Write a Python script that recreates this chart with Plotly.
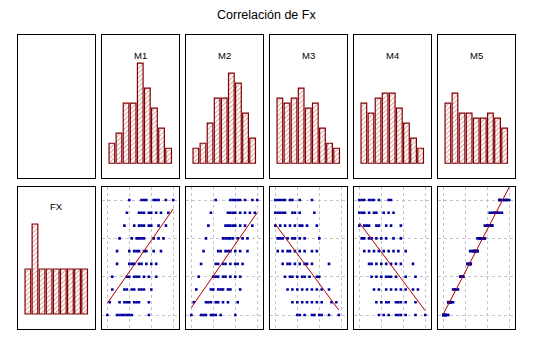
import numpy as np
import plotly.graph_objects as go

TITLE = "Correlación de Fx"
VARS = ["M1", "M2", "M3", "M4", "M5"]
FX_LEVELS = [1, 2, 3, 4, 5, 6, 7, 8, 9, 10]

# histogram counts (9 bins)
FX_HIST = [9, 18, 9, 9, 9, 9, 9, 9, 9]
M1_HIST = [4, 6, 12, 12, 20, 15, 11, 7, 3]
M2_HIST = [3, 4, 8, 13, 13, 18, 16, 10, 5]
M3_HIST = [13, 12, 13, 15, 11, 12, 7, 4, 3]
M4_HIST = [12, 10, 13, 14, 14, 11, 8, 5, 3]
M5_HIST = [12, 14, 10, 10, 9, 9, 10, 9, 7]

# scatter points: for each FX level (1..10) the M values
M1_ROWS = [
    [1, 2.33, 2.67, 3, 3.33, 3.67, 4, 4.33, 6.67],
    [1.33, 2.67, 3.33, 3.67, 4, 4.67, 5, 5.33, 6.67],
    [1.67, 3.33, 3.67, 4.33, 4.67, 5.33, 5.67, 6, 7],
    [1.67, 3.67, 4, 4.67, 5, 5.33, 6, 6.67, 7.67],
    [2.33, 4, 4.33, 4.67, 5.33, 5.67, 6.33, 7, 7.67],
    [2.33, 4, 4.67, 5, 5.33, 6, 6.33, 7.33, 8.33],
    [2.67, 4.33, 5, 5.33, 5.67, 6, 7.33, 8, 8.67],
    [3.33, 4.67, 5.33, 5.67, 6, 6.67, 7, 8, 9],
    [3.67, 5.33, 5.67, 6, 6.67, 7, 7.67, 8.33, 9.33],
    [4, 5.67, 6, 6.33, 7.33, 7.67, 8, 9, 10],
]
M2_ROWS = [
    [1, 2.33, 2.67, 3, 3.67, 4, 4.33, 5, 7],
    [1.33, 3, 3.33, 3.67, 4.33, 4.67, 5.33, 6, 7.33],
    [1.67, 3.67, 4, 4.67, 5, 5.33, 6, 6.33, 7.67],
    [2, 4, 4.33, 4.67, 5.33, 5.67, 6.33, 7, 7.67],
    [2.33, 4.33, 4.67, 5.33, 5.67, 6.33, 7, 7.33, 8],
    [2.67, 4.67, 5, 5.67, 6, 6.33, 7, 7.67, 8.67],
    [3, 5.33, 5.67, 6, 6.33, 6.67, 7.33, 8, 8.67],
    [3.33, 5.67, 6, 6.33, 6.67, 7, 7.67, 8.33, 9.33],
    [3.67, 6, 6.33, 6.67, 7, 7.67, 8.33, 9, 9.67],
    [4.33, 6.33, 6.67, 7, 7.33, 7.67, 8.33, 9.33, 10],
]
M3_ROWS = [
    [4, 4.33, 5, 6, 6.33, 7, 7.33, 8.33, 9.67],
    [3.33, 4, 4.67, 5.33, 6, 6.67, 7.33, 8.67, 9.33],
    [2.67, 3.33, 4, 4.67, 5.33, 6, 6.67, 7.33, 8.33],
    [2.33, 3, 3.33, 4, 4.67, 5, 5.67, 6.67, 7],
    [2, 2.67, 3, 3.67, 4.33, 5, 5.33, 6, 8.33],
    [1.33, 2, 2.67, 3, 3.67, 4.33, 5, 6, 6.67],
    [1.33, 1.67, 2, 2.67, 3.33, 3.67, 4.33, 5, 7],
    [1, 1.67, 2.33, 3, 3.67, 4.33, 4.67, 5.33, 6.67],
    [1, 1.33, 1.67, 2, 2.33, 3.33, 3.67, 4.33, 6.33],
    [1, 1.33, 1.67, 2, 2.33, 3, 3.33, 4.33, 6],
]
M4_ROWS = [
    [3.67, 4.33, 5, 6, 6.33, 6.67, 7.33, 8.67, 10],
    [3.33, 4, 4.67, 5, 6, 6.33, 6.67, 7.33, 8.67],
    [3, 3.67, 4.67, 5.33, 6, 6.67, 7.33, 8.33, 9],
    [2.67, 3.33, 4, 4.67, 5, 5.33, 6, 7.33, 8.67],
    [2.33, 2.67, 3.33, 4, 4.67, 5.33, 6, 6.67, 8.33],
    [1.67, 2.33, 3, 3.67, 4.33, 5, 5.67, 6.33, 7.33],
    [1.33, 1.67, 2.33, 2.67, 3.33, 4, 4.67, 5.67, 6.67],
    [1, 1.67, 2, 2.33, 3.33, 3.67, 4.67, 5.33, 6.67],
    [1, 1.33, 1.67, 2.33, 3, 3.33, 4.33, 5, 5.67],
    [1, 1.33, 1.67, 2.33, 2.67, 3, 3.67, 5, 5.33],
]
M5_ROWS = [
    [1, 1, 1, 1, 1.33, 1.33, 1.33, 1.33, 1.67],
    [1.67, 1.67, 1.67, 2, 2, 2, 2, 2, 2.33],
    [2.33, 2.67, 2.67, 2.67, 2.67, 2.67, 2.67, 2.67, 3],
    [3.33, 3.33, 3.67, 3.67, 3.67, 3.67, 3.67, 3.67, 3.67],
    [4.33, 4.33, 4.33, 4.67, 4.67, 4.67, 4.67, 4.67, 4.67],
    [4.67, 5, 5, 5.33, 5.33, 5.33, 5.33, 5.67, 5.67],
    [5.67, 6, 6, 6, 6.33, 6.33, 6.33, 6.67, 6.67],
    [6.67, 7, 7, 7, 7.33, 7.33, 7.33, 7.67, 7.67],
    [7.33, 7.67, 8, 8, 8.33, 8.33, 8.33, 8.67, 9],
    [8.67, 8.67, 8.67, 9, 9.33, 9.33, 9.67, 9.67, 10],
]

HISTS = [M1_HIST, M2_HIST, M3_HIST, M4_HIST, M5_HIST]
ROWS = [M1_ROWS, M2_ROWS, M3_ROWS, M4_ROWS, M5_ROWS]

W, H = 533, 346
BAR_LINE = "#800000"
DOT = "#0000A0"
FIT = "#B00000"
GRID = "#C4C4C4"

col_left = [18 + 84 * i for i in range(6)]
col_w = 76.5
row_top = [35, 187]
row_bot = [178.3, 329]

fig = go.Figure()
layout = {}


def dom_x(c):
    return [col_left[c] / W, (col_left[c] + col_w) / W]


def dom_y(r):
    return [1 - row_bot[r] / H, 1 - row_top[r] / H]


def axis_common():
    return dict(showline=True, mirror=True, linecolor="black", linewidth=1.4,
                zeroline=False, showticklabels=False, ticks="", fixedrange=True)


bins = list(range(9))


def add_hist(k, counts, r, c):
    fig.add_trace(go.Bar(
        x=bins, y=counts, xaxis=f"x{k}", yaxis=f"y{k}", width=0.8,
        marker=dict(color="white", line=dict(color=BAR_LINE, width=1.2),
                    pattern=dict(shape="/", fgcolor=BAR_LINE, bgcolor="#fff8f8",
                                 size=3.3, solidity=0.26)),
        showlegend=False, hoverinfo="skip"))
    layout[f"xaxis{k}"] = dict(axis_common(), domain=dom_x(c), range=[-1.39, 9.39],
                               showgrid=False, anchor=f"y{k}")
    layout[f"yaxis{k}"] = dict(axis_common(), domain=dom_y(r),
                               range=[-3, 25.6 if r == 0 else 25.4],
                               showgrid=False, anchor=f"x{k}")


# empty top-left panel
layout["xaxis1"] = dict(axis_common(), domain=dom_x(0), range=[0, 1], showgrid=False, anchor="y1")
layout["yaxis1"] = dict(axis_common(), domain=dom_y(0), range=[0, 1], showgrid=False, anchor="x1")
fig.add_trace(go.Scatter(x=[], y=[], xaxis="x1", yaxis="y1", showlegend=False))

for i, name in enumerate(VARS):
    add_hist(i + 2, HISTS[i], 0, i + 1)

add_hist(7, FX_HIST, 1, 0)

for i, rows in enumerate(ROWS):
    k = i + 8
    xs, ys = [], []
    for lvl, vals in zip(FX_LEVELS, rows):
        for v in vals:
            xs.append(v)
            ys.append(lvl)
    xs = np.array(xs, float)
    ys = np.array(ys, float)
    fig.add_trace(go.Scatter(x=xs, y=ys, mode="markers", xaxis=f"x{k}", yaxis=f"y{k}",
                             marker=dict(symbol="square", size=2.6, color=DOT, line=dict(width=0)),
                             showlegend=False, hoverinfo="skip"))
    b, a = np.polyfit(xs, ys, 1)
    lx = np.array([xs.min(), xs.max()])
    fig.add_trace(go.Scatter(x=lx, y=a + b * lx, mode="lines", xaxis=f"x{k}", yaxis=f"y{k}",
                             line=dict(color=FIT, width=1), showlegend=False, hoverinfo="skip"))
    layout[f"xaxis{k}"] = dict(axis_common(), domain=dom_x(i + 1), range=[0.27, 10.72],
                               showgrid=True, gridcolor=GRID, griddash="dot", gridwidth=1,
                               tick0=1, dtick=3, anchor=f"y{k}")
    layout[f"yaxis{k}"] = dict(axis_common(), domain=dom_y(1), range=[-0.095, 11.02],
                               showgrid=True, gridcolor=GRID, griddash="dot", gridwidth=1,
                               tick0=1, dtick=3, anchor=f"x{k}")

annotations = [dict(text=TITLE, x=266 / W, y=1 - 15 / H, xref="paper", yref="paper",
                    showarrow=False, font=dict(family="Liberation Sans, Arial", size=12.5, color="black"),
                    xanchor="center", yanchor="middle")]
for i, name in enumerate(VARS):
    c = i + 1
    annotations.append(dict(text=name, x=(col_left[c] + col_w / 2) / W, y=1 - 55 / H,
                            xref="paper", yref="paper", showarrow=False,
                            font=dict(family="Liberation Sans, Arial", size=9.5, color="black"),
                            xanchor="center", yanchor="middle"))
annotations.append(dict(text="FX", x=(col_left[0] + col_w / 2) / W, y=1 - 206 / H,
                        xref="paper", yref="paper", showarrow=False,
                        font=dict(family="Liberation Sans, Arial", size=9.5, color="black"),
                        xanchor="center", yanchor="middle"))

fig.update_layout(width=W, height=H, margin=dict(l=0, r=0, t=0, b=0),
                  paper_bgcolor="white", plot_bgcolor="white",
                  annotations=annotations, bargap=0.2, **layout)

fig.write_html("out.html", config={"displayModeBar": False})
